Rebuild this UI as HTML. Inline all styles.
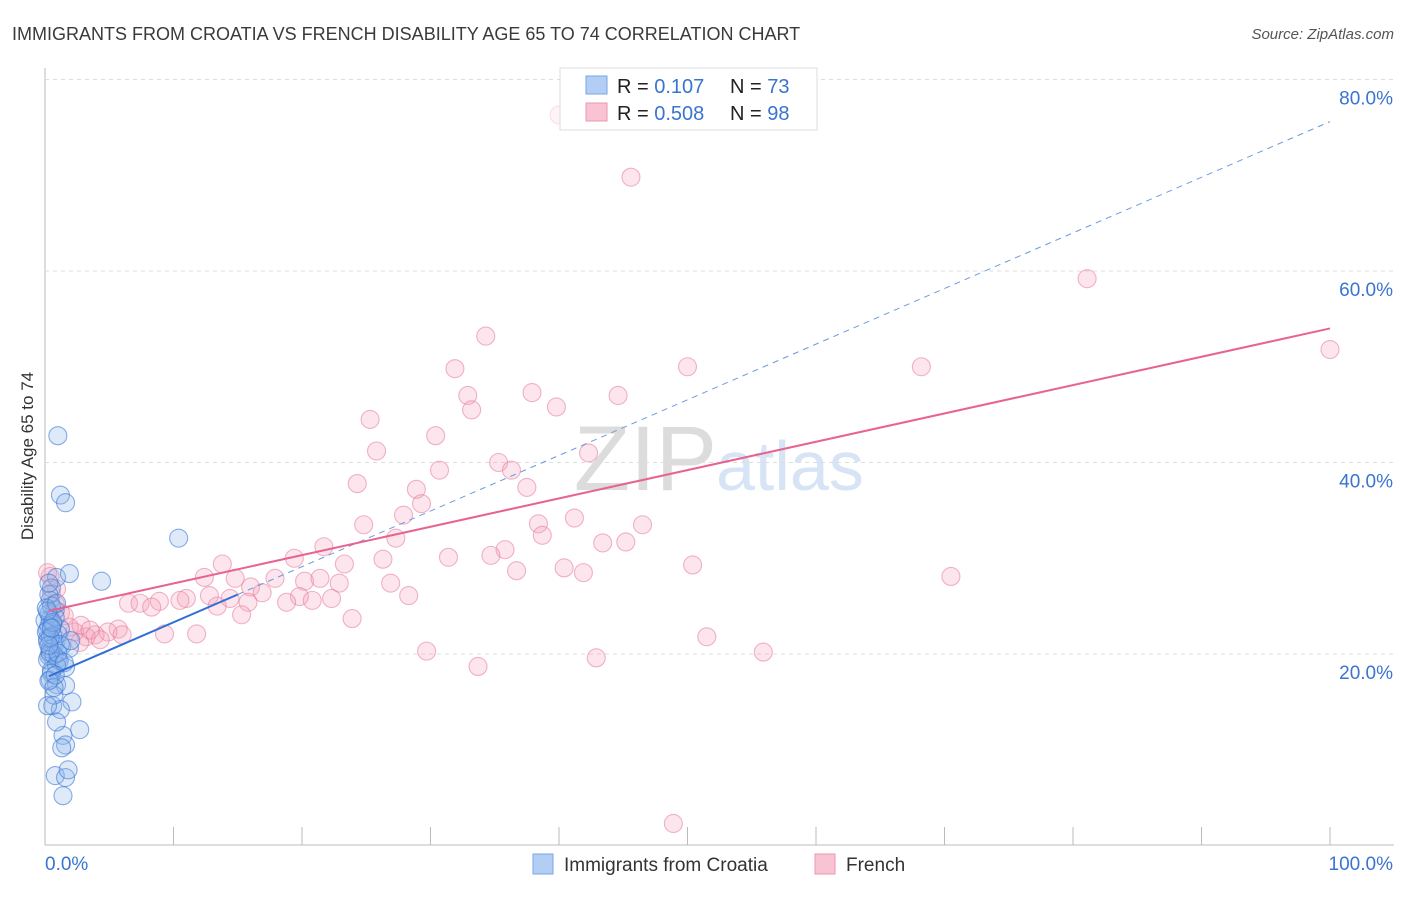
<!DOCTYPE html>
<html><head><meta charset="utf-8"><style>
body{margin:0;background:#fff;font-family:"Liberation Sans",sans-serif;}
svg text{font-family:"Liberation Sans",sans-serif;}
</style></head><body>
<svg id="c" width="1406" height="892">
<text x="12" y="40" font-size="18" fill="#3a3a3a">IMMIGRANTS FROM CROATIA VS FRENCH DISABILITY AGE 65 TO 74 CORRELATION CHART</text>
<text x="1394" y="39" font-size="15" fill="#555" font-style="italic" text-anchor="end">Source: ZipAtlas.com</text>
<text x="33" y="456" font-size="17" fill="#333" text-anchor="middle" transform="rotate(-90 33 456)">Disability Age 65 to 74</text>
<text x="717" y="490" font-size="92" fill="#dcdcdc" text-anchor="end" font-family="Liberation Serif">ZIP</text>
<text x="716" y="490" font-size="70" fill="#d6e4f5">atlas</text>
<g id="grid"></g><g id="marks"></g>
<g>
<rect x="560" y="68" width="257" height="62" fill="#fff" stroke="#ddd"/>
<rect x="586" y="76" width="21" height="18" fill="#b3cef5" stroke="#7aa6e6"/>
<rect x="586" y="103" width="21" height="18" fill="#f8c3d2" stroke="#ee94b0"/>
<text x="617" y="93" font-size="20" fill="#222">R = <tspan fill="#3a74d0"> 0.107</tspan><tspan x="730">N = </tspan><tspan fill="#3a74d0">73</tspan></text>
<text x="617" y="120" font-size="20" fill="#222">R = <tspan fill="#3a74d0">0.508</tspan><tspan x="730">N = </tspan><tspan fill="#3a74d0">98</tspan></text>
</g>
<g>
<rect x="533" y="854" width="20" height="20" fill="#b3cef5" stroke="#7aa6e6"/>
<text x="564" y="871" font-size="19" fill="#333">Immigrants from Croatia</text>
<rect x="815" y="854" width="20" height="20" fill="#f8c3d2" stroke="#ee94b0"/>
<text x="846" y="871" font-size="19" fill="#333">French</text>
</g>
</svg>
<script>
const yTicks=[20,40,60,80];
const xTickLabels=["0.0%","100.0%"];
const blueX=[1.0,1.2,1.6,10.4,4.4,0.9,1.9,0.5,0.4,0.8,0.4,0.5,1.2,0.2,0.8,1.3,1.9,0.4,1.0,1.6,0.4,0.9,1.6,2.1,0.6,1.2,2.7,1.4,1.6,1.3,0.8,1.6,1.8,1.4,0.0,0.2,0.3,0.5,0.7,0.2,0.9,0.3,0.6,1.0,0.2,0.4,0.7,1.1,0.3,0.5,0.1,0.8,0.3,0.6,1.2,0.4,0.2,0.9,0.5,0.3,0.7,0.1,1.0,0.4,0.6,0.2,1.5,0.8,0.3,0.5,2.0,0.9,0.3];
const blueY=[42.8,36.6,35.8,32.1,27.6,28.0,28.4,26.9,25.6,24.6,23.6,22.8,22.6,21.6,21.1,20.8,20.6,20.0,19.5,18.6,17.3,16.8,16.7,15.0,14.6,14.2,12.1,11.5,10.5,10.2,7.3,7.1,7.9,5.2,23.5,22.5,19.8,18.3,15.7,14.6,12.9,24.2,23.1,22.1,21.3,20.5,19.9,19.3,26.2,25.0,24.8,23.8,22.9,21.9,21.0,20.2,19.4,18.8,18.0,17.2,16.5,22.3,20.1,21.7,23.3,24.5,19.1,17.8,20.9,22.7,21.4,25.3,27.4];
const pinkX=[45.6,81.1,100,34.3,50.0,68.2,31.9,32.9,33.2,37.9,39.8,44.6,25.3,25.8,30.4,42.3,24.3,30.7,35.3,36.3,37.5,28.9,29.3,27.9,24.8,38.4,41.2,46.5,38.7,27.3,21.7,43.4,45.2,35.8,34.7,31.4,26.3,23.3,19.4,13.8,36.7,40.4,41.9,50.4,70.5,20.2,21.4,22.9,26.9,17.9,16.0,16.9,12.4,14.8,19.8,20.8,22.3,28.3,18.8,12.8,14.4,11.0,8.9,6.5,7.4,10.5,15.8,8.3,13.4,15.3,23.9,9.3,11.8,5.7,4.9,3.9,3.2,4.3,2.7,2.3,1.9,1.2,0.8,0.4,0.5,51.5,55.9,29.7,42.9,33.7,48.9,40.0,0.2,1.5,2.8,3.5,6.0,0.9];
const pinkY=[69.8,59.2,51.8,53.2,50.0,50.0,49.8,47.0,45.5,47.3,45.8,47.0,44.5,41.2,42.8,41.0,37.8,39.2,40.0,39.2,37.4,37.2,35.7,34.5,33.5,33.6,34.2,33.5,32.4,32.1,31.2,31.6,31.7,30.9,30.3,30.1,29.9,29.4,30.0,29.4,28.7,29.0,28.5,29.3,28.1,27.6,27.9,27.4,27.4,27.9,27.0,26.4,28.0,27.9,26.0,25.6,25.8,26.1,25.4,26.1,25.8,25.8,25.5,25.3,25.3,25.6,25.4,24.9,25.0,24.1,23.7,22.1,22.1,22.6,22.3,22.0,21.8,21.5,21.2,22.3,22.8,24.3,25.2,28.1,26.3,21.8,20.2,20.3,19.6,18.7,2.3,76.3,28.5,24.0,23.0,22.5,22.0,26.8];
const blueTrend=[17.5,75.6];
const pinkTrend=[24.5,54.0];
const NS="http://www.w3.org/2000/svg";
const X=v=>45+v*12.85, Y=v=>845.5-v*9.575;
const grid=document.getElementById('grid'), marks=document.getElementById('marks');
function mk(tag,attrs,parent){const e=document.createElementNS(NS,tag);for(const k in attrs)e.setAttribute(k,attrs[k]);parent.appendChild(e);return e;}
const ax=mk('line',{x1:45,y1:68,x2:45,y2:845,stroke:'#bbb'},grid);


const bx=mk('line',{x1:45,y1:845,x2:1394,y2:845,stroke:'#bbb'},grid);


yTicks.forEach(t=>{
 const l=mk('line',{x1:45,x2:1394,y1:Y(t),y2:Y(t),stroke:'#ddd','stroke-dasharray':'4,4'},grid);
 
 
 const tx=mk('text',{x:1393,y:Y(t)+25,'font-size':19,fill:'#3a74d0','text-anchor':'end'},grid);
 tx.textContent=t.toFixed(1)+'%';
 
 
});
for(let i=1;i<=10;i++){
 const l=mk('line',{x1:X(i*10),x2:X(i*10),y1:827,y2:845,stroke:'#bbb'},grid);
 
 
}
const xl0=mk('text',{x:45,y:870,'font-size':19,fill:'#3a74d0'},grid);xl0.textContent=xTickLabels[0];


const xl1=mk('text',{x:1393,y:870,'font-size':19,fill:'#3a74d0','text-anchor':'end'},grid);xl1.textContent=xTickLabels[1];


pinkX.forEach((x,i)=>{
 const faint=pinkY[i]>75;
 const c=mk('circle',{cx:X(x),cy:Y(pinkY[i]),r:9,fill:faint?'rgba(244,160,185,0.12)':'rgba(244,160,185,0.28)',stroke:faint?'rgba(230,120,155,0.2)':'rgba(230,120,155,0.55)','stroke-width':1.1},marks);
 
 
});
blueX.forEach((x,i)=>{
 const c=mk('circle',{cx:X(x),cy:Y(blueY[i]),r:9,fill:'rgba(140,180,235,0.28)',stroke:'rgba(60,120,215,0.6)','stroke-width':1.1},marks);
 
 
});
const bt=v=>blueTrend[0]+(blueTrend[1]-blueTrend[0])*v/100;
const b1=mk('line',{x1:X(0.3),y1:Y(bt(0.3)),x2:X(15),y2:Y(bt(15)),stroke:'#2f6fd6','stroke-width':2},marks);


const b2=mk('line',{x1:X(15),y1:Y(bt(15)),x2:X(100),y2:Y(bt(100)),stroke:'#6a9be0','stroke-width':1,'stroke-dasharray':'6,5'},marks);


const p1=mk('line',{x1:X(0.3),y1:Y(pinkTrend[0]),x2:X(100),y2:Y(pinkTrend[1]),stroke:'#e8648f','stroke-width':2},marks);


</script>
</body></html>
